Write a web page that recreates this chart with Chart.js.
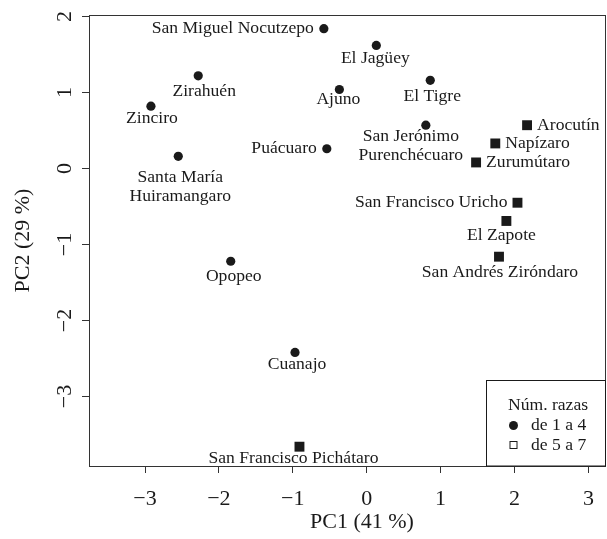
<!DOCTYPE html>
<html lang="es">
    <head>
        <meta charset="UTF-8" />
        <title>PCA comunidades</title>
        <script src="https://cdn.jsdelivr.net/npm/chart.js@4.4.1/dist/chart.umd.min.js"></script>
        <style>
            body { margin: 0; background: #fff; }
        </style>
    </head>
    <body>
        <canvas id="chart" width="607" height="539"></canvas>
        <script>
        // grupo 1: de 1 a 4 razas (circulos)
        const placesA = ['San Miguel Nocutzepo', 'El Jagüey', 'El Tigre', 'Ajuno',
            'San Jerónimo\nPurenchécuaro', 'Puácuaro', 'Zirahuén', 'Zinciro',
            'Santa María\nHuiramangaro', 'Opopeo', 'Cuanajo'];
        const pc1A = [-0.58, 0.13, 0.86, -0.37, 0.80, -0.54, -2.28, -2.92, -2.55, -1.84, -0.97];
        const pc2A = [1.84, 1.62, 1.16, 1.04, 0.57, 0.26, 1.22, 0.82, 0.16, -1.22, -2.42];

        // grupo 2: de 5 a 7 razas (cuadrados)
        const placesB = ['Arocutín', 'Napízaro', 'Zurumútaro', 'San Francisco Uricho',
            'El Zapote', 'San Andrés Ziróndaro', 'San Francisco Pichátaro'];
        const pc1B = [2.17, 1.74, 1.48, 2.04, 1.89, 1.79, -0.91];
        const pc2B = [0.57, 0.33, 0.08, -0.45, -0.69, -1.16, -3.66];

        const groups = ['de 1 a 4', 'de 5 a 7'];
        const legendTitle = 'Núm. razas';
        const xTitle = 'PC1 (41 %)';
        const yTitle = 'PC2 (29 %)';

        // where each label sits next to its point [side, dx, dy]
        const labelPosA = [['left', 0, 0], ['below', -1, -1], ['below', 2, 2], ['below', -1, -4],
            ['below', -15, -3], ['left', 0, 0], ['below', 6, 1], ['below', 1, -2],
            ['below', 2, 7], ['below', 3, 1], ['below', 2, -2]];
        const labelPosB = [['right', 0, 0], ['right', 0, 0], ['right', 0, 0], ['left', 0, 0],
            ['below', -5, 0], ['below', 1, 1], ['below', -6, -3]];

        const serif = '"Liberation Serif", "DejaVu Serif", serif';
        const ink = '#1a1a1a';
        const fmt = v => String(Math.round(v)).replace('-', '\u2212');

        const pairs = (xs, ys) => xs.map((x, i) => ({ x: x, y: ys[i] }));

        const extras = {
            id: 'extras',
            afterDatasetsDraw(chart) {
                const c = chart.ctx;
                const a = chart.chartArea;
                c.save();
                // box round the plot
                c.strokeStyle = '#333';
                c.lineWidth = 1;
                c.strokeRect(a.left + 0.5, a.top + 0.5, a.right - a.left - 1, a.bottom - a.top);

                // point labels
                c.fillStyle = ink;
                c.font = '17.6px ' + serif;
                const sets = [[placesA, labelPosA], [placesB, labelPosB]];
                sets.forEach((s, d) => {
                    const meta = chart.getDatasetMeta(d);
                    s[0].forEach((name, i) => {
                        const pt = meta.data[i];
                        const [side, dx, dy] = s[1][i];
                        const lines = name.split('\n');
                        if (side === 'below') {
                            c.textAlign = 'center';
                            c.textBaseline = 'alphabetic';
                            lines.forEach((ln, k) => c.fillText(ln, pt.x + dx, pt.y + 19 + dy + k * 18.4));
                        } else {
                            c.textAlign = side === 'left' ? 'right' : 'left';
                            c.textBaseline = 'middle';
                            const off = side === 'left' ? -10 : 10;
                            c.fillText(lines[0], pt.x + off + dx, pt.y + dy);
                        }
                    });
                });

                // x title
                c.font = '22px ' + serif;
                c.textAlign = 'center';
                c.textBaseline = 'middle';
                c.fillText(xTitle, 362, 522);

                // legend
                const lx = 486.5, ly = 380.5;
                c.strokeStyle = ink;
                c.strokeRect(lx, ly, a.right - 0.5 - lx, a.bottom - ly);
                c.font = '17.6px ' + serif;
                c.textBaseline = 'alphabetic';
                c.fillText(legendTitle, 548, 410);
                c.textAlign = 'left';
                c.fillText(groups[0], 531, 430);
                c.fillText(groups[1], 531, 449.5);
                c.beginPath();
                c.arc(513.5, 425.5, 4.5, 0, Math.PI * 2);
                c.fill();
                c.lineWidth = 1;
                c.strokeRect(510, 441.5, 7, 7);
                c.restore();
            }
        };

        const ctx = document.getElementById('chart').getContext('2d');
        const chart = new Chart(ctx, {
            type: 'scatter',
            data: {
                datasets: [{
                    label: groups[0],
                    data: pairs(pc1A, pc2A),
                    pointStyle: 'circle',
                    pointRadius: 4.6,
                    backgroundColor: ink,
                    borderWidth: 0
                }, {
                    label: groups[1],
                    data: pairs(pc1B, pc2B),
                    pointStyle: 'rect',
                    pointRadius: 7,
                    backgroundColor: ink,
                    borderWidth: 0
                }]
            },
            options: {
                responsive: false,
                animation: false,
                layout: { autoPadding: false, padding: { left: 0, right: 1, top: 15, bottom: 0 } },
                plugins: { legend: { display: false }, tooltip: { enabled: false } },
                scales: {
                    x: {
                        type: 'linear',
                        min: -3.758,
                        max: 3.238,
                        border: { display: false },
                        grid: { drawOnChartArea: false, tickLength: 7, color: '#333' },
                        ticks: {
                            stepSize: 1, includeBounds: false, color: ink, padding: 13,
                            font: { family: serif, size: 22 }, callback: fmt
                        },
                        afterFit: s => {
                            s.height = 73;
                            s.paddingLeft = 0; s.paddingRight = 0; s.paddingTop = 0; s.paddingBottom = 0;
                        }
                    },
                    y: {
                        type: 'linear',
                        min: -3.914,
                        max: 2.02,
                        border: { display: false },
                        grid: { drawOnChartArea: false, tickLength: 7, color: '#333' },
                        ticks: {
                            stepSize: 1, includeBounds: false, color: ink, padding: 5,
                            minRotation: 90, maxRotation: 90, crossAlign: 'center',
                            font: { family: serif, size: 22 }, callback: fmt
                        },
                        title: {
                            display: true, text: yTitle, color: ink,
                            font: { family: serif, size: 22 }, padding: { top: 10, bottom: 0 }
                        },
                        afterFit: s => {
                            s.width = 89;
                            s.paddingLeft = 0; s.paddingRight = 0; s.paddingTop = 0; s.paddingBottom = 0;
                        }
                    }
                }
            },
            plugins: [extras]
        });
        </script>
    </body>
</html>
